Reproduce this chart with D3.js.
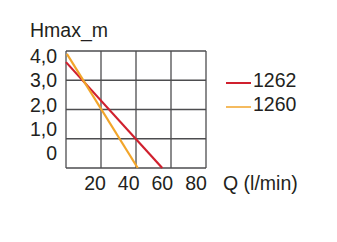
<!DOCTYPE html>
<html>
<head>
<meta charset="utf-8">
<script src="https://cdn.jsdelivr.net/npm/d3@7"></script>
<style>
body { margin: 0; background: #fff; }
text { font-family: 'Liberation Sans', Arial, sans-serif; fill: #231f20; }
</style>
</head>
<body>
<svg width="337" height="242"></svg>
<script>
// values
var series = ['1262', '1260']
var colors = ['#d0202e', '#f2a52a']
var q1262 = [0, 55]
var h1262 = [3.62, 0]
var q1260 = [0.5, 41]
var h1260 = [3.9, 0]
var xTicks = [20, 40, 60, 80]
var yTicks = [4, 3, 2, 1, 0]
var yTickLabels = ['4,0', '3,0', '2,0', '1,0', '0']

var svg = d3.select('svg')

var x = d3.scaleLinear().domain([0, 80]).range([66, 206])
var y = d3.scaleLinear().domain([0, 4]).range([168, 51])
// the printed labels do not sit on the grid lines
var xLab = d3.scaleLinear().domain([20, 80]).range([95, 196])
var yLab = d3.scaleLinear().domain([0, 4]).range([153, 56])

// grid
svg.append('g').selectAll('line.v')
    .data([0, 20, 40, 60, 80])
    .enter().append('line')
    .attr('x1', d => x(d)).attr('x2', d => x(d))
    .attr('y1', y(4)).attr('y2', y(0))
    .style('stroke', '#4d4d4f').style('stroke-width', 1.3)
svg.append('g').selectAll('line.h')
    .data([0, 1, 2, 3, 4])
    .enter().append('line')
    .attr('x1', x(0)).attr('x2', x(80))
    .attr('y1', d => y(d)).attr('y2', d => y(d))
    .style('stroke', '#4d4d4f').style('stroke-width', 1.3)

// curves
var data = [
    q1262.map((q, i) => ({ q: q, h: h1262[i] })),
    q1260.map((q, i) => ({ q: q, h: h1260[i] }))
]
var line = d3.line().x(d => x(d.q)).y(d => y(d.h))
svg.append('g').selectAll('path')
    .data(data)
    .enter().append('path')
    .attr('d', line)
    .style('fill', 'none')
    .style('stroke', (d, i) => colors[i])
    .style('stroke-width', 2.2)

// y labels
svg.append('g').selectAll('text')
    .data(yTicks)
    .enter().append('text')
    .attr('x', 57)
    .attr('y', d => yLab(d))
    .attr('dy', '0.36em')
    .attr('text-anchor', 'end')
    .style('font-size', '19.5px')
    .text((d, i) => yTickLabels[i])

// x labels
svg.append('g').selectAll('text')
    .data(xTicks)
    .enter().append('text')
    .attr('x', d => xLab(d))
    .attr('y', 190)
    .attr('text-anchor', 'middle')
    .style('font-size', '19.5px')
    .text(d => d)

svg.append('text')
    .attr('x', 30).attr('y', 37)
    .style('font-size', '19.5px')
    .text('Hmax_m')
svg.append('text')
    .attr('x', 223).attr('y', 190)
    .style('font-size', '19.5px')
    .text('Q (l/min)')

// legend
var legend = svg.append('g').selectAll('g')
    .data(series)
    .enter().append('g')
    .attr('transform', (d, i) => 'translate(226,' + (83 + i * 24) + ')')
legend.append('line')
    .attr('x1', 0).attr('x2', 25)
    .style('stroke', (d, i) => colors[i])
    .style('stroke-width', (d, i) => i == 0 ? 2 : 1.5)
legend.append('text')
    .attr('x', 27).attr('y', 4)
    .style('font-size', '19.5px')
    .text(d => d)
</script>
</body>
</html>
